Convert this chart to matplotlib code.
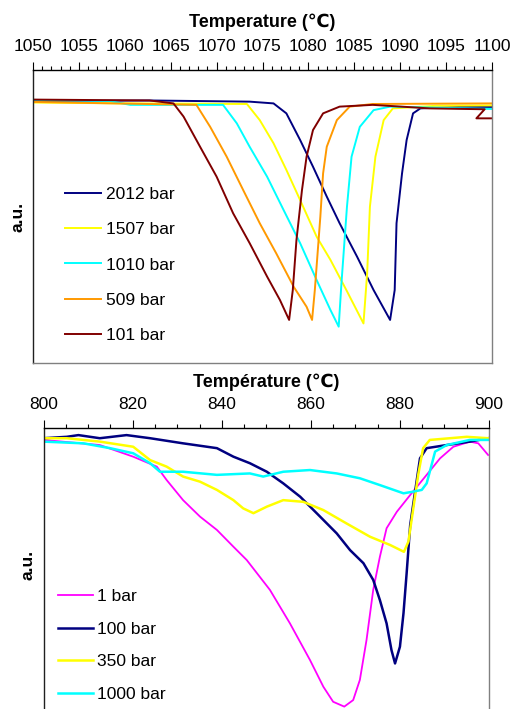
import matplotlib
matplotlib.use('Agg')
import matplotlib.pyplot as plt
from matplotlib.ticker import MultipleLocator

plt.rcParams['font.family'] = ['Liberation Sans', 'DejaVu Sans']

# ---- top panel: 1050-1100 C ----
t_2012 = [1050, 1062.7, 1073.6, 1076.2, 1077.6, 1079.1, 1080.5, 1082.0, 1083.4, 1085.3,
          1087.1, 1088.9, 1089.4, 1089.6, 1090.2, 1090.7, 1091.4, 1092.2, 1096.5, 1100]
s_2012 = [89.4, 89.6, 89.2, 88.6, 85.2, 76.1, 67.0, 56.8, 47.7, 36.3,
          24.9, 14.7, 24.9, 47.7, 64.7, 76.1, 85.2, 86.9, 87.4, 87.4]

t_1507 = [1050, 1060, 1073.3, 1074.7, 1076.2, 1077.6, 1079.1, 1080.9, 1082.4, 1084.2,
          1086.0, 1086.4, 1086.7, 1087.3, 1088.2, 1089.2, 1094, 1100]
s_1507 = [88.9, 88.6, 88.4, 82.9, 75.0, 65.9, 55.6, 43.1, 35.2, 24.5,
          13.5, 30.6, 53.3, 70.4, 82.9, 86.9, 87.8, 87.9]

t_1010 = [1050, 1058.4, 1060.6, 1070.7, 1072.2, 1073.6, 1075.5, 1077.3, 1079.1, 1080.9,
          1082.4, 1083.3, 1083.6, 1084.2, 1084.7, 1085.6, 1087.1, 1088.9, 1100]
s_1010 = [89.8, 89.4, 88.1, 88.1, 81.8, 73.8, 63.6, 52.2, 40.9, 28.3,
          18.1, 12.4, 27.2, 53.3, 70.4, 80.6, 86.3, 87.5, 86.7]

t_509 = [1050, 1067.8, 1069.3, 1071.1, 1072.9, 1074.7, 1076.5, 1078.4, 1079.8, 1080.4,
         1080.7, 1081.3, 1081.6, 1082.0, 1083.1, 1084.5, 1087.0, 1100]
s_509 = [89.1, 88.1, 80.6, 70.4, 59.0, 47.7, 37.4, 26.0, 19.2, 14.7,
         24.9, 49.9, 64.7, 73.8, 82.9, 87.5, 88.4, 88.6]

t_101 = [1050, 1062.7, 1065.3, 1066.4, 1068.2, 1070.0, 1071.8, 1073.6, 1075.5, 1076.9,
         1077.9, 1078.3, 1078.7, 1079.3, 1079.8, 1080.5, 1081.6, 1083.4, 1087.0, 1093.2,
         1099.2, 1098.3, 1100]
s_101 = [89.9, 89.6, 88.6, 84.1, 73.8, 63.6, 51.1, 40.9, 29.5, 21.5,
         14.7, 24.9, 42.0, 59.0, 70.4, 79.5, 85.2, 87.5, 88.1, 86.9,
         86.6, 83.5, 83.5]

top_series = [
    ('2012 bar', '#000080', t_2012, s_2012),
    ('1507 bar', '#FFFF00', t_1507, s_1507),
    ('1010 bar', '#00FFFF', t_1010, s_1010),
    ('509 bar', '#FF9900', t_509, s_509),
    ('101 bar', '#800000', t_101, s_101),
]

# ---- bottom panel: 800-900 C ----
t_1 = [800, 812.6, 820.1, 825.4, 827.6, 831.3, 835.1, 838.9, 842.6, 845.6,
       850.8, 855.3, 859.8, 862.8, 865.0, 867.5, 869.5, 871.0, 872.5, 874.0,
       875.5, 877.0, 879.3, 882.3, 886.0, 889.0, 892.0, 895.7, 897.6, 899.8]
s_1 = [95.8, 94.0, 89.9, 86.4, 81.7, 74.6, 68.8, 64.1, 58.2, 53.5,
       43.0, 31.2, 18.3, 8.9, 3.6, 1.9, 4.2, 11.3, 25.4, 43.0,
       54.7, 64.7, 70.5, 76.4, 83.5, 89.3, 93.4, 95.2, 94.6, 90.5]

t_100 = [800, 805.2, 807.8, 812.6, 818.6, 823.9, 831.3, 838.9, 842.6, 846.3,
         850.1, 853.8, 857.6, 861.3, 865.8, 868.8, 871.8, 874.0, 875.5, 877.0,
         878.1, 878.9, 880.0, 880.8, 881.5, 882.3, 883.4, 884.5, 886.0, 890.5,
         895.7, 899.8]
s_100 = [96.4, 96.9, 97.5, 96.4, 97.5, 96.4, 94.6, 92.9, 89.9, 87.6,
         84.6, 80.5, 75.8, 70.0, 62.9, 57.0, 52.4, 46.5, 39.4, 31.2,
         21.8, 17.1, 23.0, 34.8, 48.8, 65.8, 77.6, 89.3, 92.9, 94.0,
         95.2, 96.4]

t_350 = [800, 805.2, 812.6, 820.1, 823.9, 827.6, 831.3, 835.1, 838.9, 842.6,
         844.8, 847.1, 850.1, 853.8, 858.3, 862.8, 868.0, 873.3, 877.8, 880.9,
         881.9, 883.0, 884.1, 885.2, 886.7, 895.0, 899.8]
s_350 = [96.4, 96.4, 95.2, 93.4, 88.7, 86.4, 82.9, 81.1, 78.2, 74.6,
         71.7, 70.0, 72.3, 74.6, 74.0, 71.1, 66.4, 61.7, 58.8, 56.4,
         60.0, 71.7, 83.5, 92.9, 95.8, 96.9, 96.4]

t_1000 = [800, 808.9, 814.9, 820.1, 823.9, 826.1, 831.3, 838.9, 846.3, 849.3,
          853.8, 859.8, 865.8, 871.0, 875.5, 880.8, 883.0, 884.9, 886.0, 886.7,
          887.9, 890.5, 895.7, 899.8]
s_1000 = [95.2, 94.6, 92.9, 91.1, 87.6, 84.6, 84.6, 83.5, 84.0, 82.9,
          84.6, 85.2, 84.0, 82.3, 79.9, 77.0, 77.6, 78.2, 80.5, 84.6,
          91.7, 94.0, 95.8, 95.8]

bottom_series = [
    ('1 bar', '#FF00FF', 1.3, t_1, s_1),
    ('100 bar', '#000080', 1.8, t_100, s_100),
    ('350 bar', '#FFFF00', 1.8, t_350, s_350),
    ('1000 bar', '#00FFFF', 1.8, t_1000, s_1000),
]

W, H = 514, 709
fig = plt.figure(figsize=(W / 100, H / 100), dpi=100)

# axes rectangles from pixel positions
ax1 = fig.add_axes([33 / W, (H - 363) / H, 459 / W, 293 / H])
ax2 = fig.add_axes([43.7 / W, (H - 712) / H, 445.3 / W, 284 / H])


def style(ax, xlim, major, minor, title, labpad, ylab_x, ylab_y):
    ax.set_xlim(*xlim)
    ax.set_ylim(0, 100)
    ax.xaxis.set_major_locator(MultipleLocator(major))
    ax.xaxis.set_minor_locator(MultipleLocator(minor))
    ax.xaxis.tick_top()
    ax.xaxis.set_label_position('top')
    ax.tick_params(axis='x', which='major', direction='out', length=5.5, width=0.8,
                   labelsize=12.5, pad=6, top=True, bottom=False)
    ax.tick_params(axis='x', which='minor', direction='out', length=3, width=0.8,
                   top=True, bottom=False)
    ax.set_yticks([])
    ax.set_xlabel(title, fontsize=13, fontweight='bold', labelpad=labpad)
    ax.set_ylabel('a.u.', fontsize=12.5, fontweight='bold')
    ax.yaxis.set_label_coords(ylab_x, ylab_y)
    ax.spines['left'].set_color('#202020')
    ax.spines['top'].set_color('black')
    ax.spines['right'].set_color('#808080')
    ax.spines['bottom'].set_color('#808080')
    for sp in ax.spines.values():
        sp.set_linewidth(1.0)


for lab, col, t, s in top_series:
    ax1.plot(t, s, color=col, lw=1.4, label=lab)
style(ax1, (1050, 1100), 5, 1, 'Temperature (℃)', 9, -0.017, 0.5)
ax1.legend(loc='center left', bbox_to_anchor=(0.0697, 0.3345), frameon=False,
           fontsize=12.5, handlelength=2.1, handletextpad=0.25, labelspacing=1.15,
           borderpad=0, borderaxespad=0)

for lab, col, lw, t, s in bottom_series:
    ax2.plot(t, s, color=col, lw=lw, label=lab)
style(ax2, (800, 900), 20, 5, 'Température (℃)', 7.5, -0.0195, 0.518)
ax2.legend(loc='center left', bbox_to_anchor=(0.0328, 0.2347), frameon=False,
           fontsize=12.5, handlelength=2.0, handletextpad=0.23, labelspacing=1.0,
           borderpad=0, borderaxespad=0)

fig.savefig('out.png', dpi=100)
